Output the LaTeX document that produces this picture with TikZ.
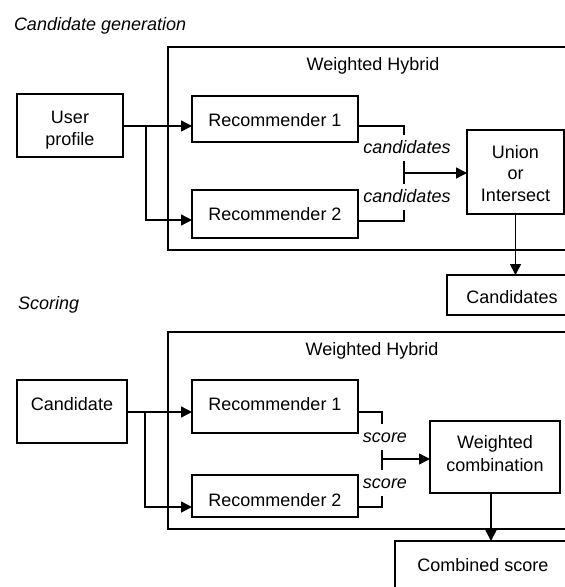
\documentclass[tikz,border=0pt]{standalone}
\usepackage{fontspec}
\setmainfont{Liberation Sans}
\usetikzlibrary{arrows.meta,calc}
\begin{document}
\begin{tikzpicture}[x=1pt,y=-1pt,
  every node/.style={inner sep=0pt,outer sep=0pt},
  box/.style={draw=black,line width=1.5pt},
  txt/.style={font=\fontsize{18}{21.5}\selectfont,anchor=base,align=center},
  title/.style={font=\fontsize{18}{21.5}\selectfont\itshape,anchor=base west},
  tag/.style={font=\fontsize{18}{21.5}\selectfont\itshape,anchor=base,fill=white,
    text height=13pt,text depth=3pt,inner ysep=5pt,inner xsep=1pt},
  wire/.style={draw=black,line width=1.5pt},
  arr/.style={wire,-{Triangle[length=11pt,width=11pt]}},
]
\useasboundingbox (0,0) rectangle (565,587);
\clip (0,0) rectangle (565,587);

% ---------- candidate generation ----------
\node[title] (t1) at (14,30) {Candidate generation};
\node[box,anchor=north west,minimum width=460pt,minimum height=203pt] (wh1) at (168,47) {};
\node[txt] (wh1t) at (373,70) {Weighted Hybrid};

\node[box,minimum width=106pt,minimum height=63pt] (up) at (70,125.5) {};
\node[txt] at (70,145) {User\\profile};

\node[box,minimum width=166pt,minimum height=46pt] (r1a) at (275,119) {};
\node[txt] at (275,126) {Recommender 1};
\node[box,minimum width=166pt,minimum height=48pt] (r2a) at (275,214) {};
\node[txt] at (275,220) {Recommender 2};

\node[box,minimum width=97pt,minimum height=84pt] (un) at (515.5,172) {};
\node[txt] at (515.5,201) {Union\\or\\Intersect};

\node[box,anchor=north west,minimum width=180pt,minimum height=40pt] (cs) at (447,275) {};
\node[txt] at (512,303) {Candidates};

\coordinate (b1) at (146,126);
\coordinate (j1) at (404,173);

\draw[arr] (up.east |- b1) -- (r1a.west |- b1);
\draw[arr] (b1) |- ($(r2a.west)+(0,6)$);
\draw[wire] (r1a.east |- b1) -| (j1);
\draw[wire] ($(r2a.east)+(0,7)$) -| (j1);
\draw[arr] (j1) -- (un.west |- j1);
\draw[arr] (un.south) -- (un.south |- cs.north);

\node[tag] at (407,153) {candidates};
\node[tag] at (407,202) {candidates};

% ---------- scoring ----------
\node[title] (t2) at (18,309) {Scoring};
\node[box,anchor=north west,minimum width=460pt,minimum height=197pt] (wh2) at (168,332) {};
\node[txt] (wh2t) at (372,355) {Weighted Hybrid};

\node[box,minimum width=110pt,minimum height=63pt] (cd) at (72,411.5) {};
\node[txt] at (72,410) {Candidate};

\node[box,minimum width=166pt,minimum height=53pt] (r1b) at (275,406.5) {};
\node[txt] at (275,410) {Recommender 1};
\node[box,minimum width=166pt,minimum height=42pt] (r2b) at (275,496) {};
\node[txt] at (275,506) {Recommender 2};

\node[box,minimum width=130pt,minimum height=72pt] (wc) at (495,457) {};
\node[txt,font=\fontsize{18}{23}\selectfont] at (495,471) {Weighted\\combination};

\node[box,anchor=north west,minimum width=240pt,minimum height=80pt] (co) at (395,541) {};
\node[txt] at (483,571) {Combined score};

\coordinate (b2) at (145,412);
\coordinate (j2) at (382,459);
\coordinate (wcs) at ($(wc.south)+(-4,0)$);

\draw[arr] (cd.east |- b2) -- (r1b.west |- b2);
\draw[arr] (b2) |- ($(r2b.west)+(0,11)$);
\draw[wire] (r1b.east |- b2) -| (j2);
\draw[wire] ($(r2b.east)+(0,11)$) -| (j2);
\draw[arr] (j2) -- (wc.west |- j2);
\draw[arr] (wcs) -- (wcs |- co.north);

\node[tag] at (385,442) {score};
\node[tag] at (385,488) {score};
\end{tikzpicture}
\end{document}
